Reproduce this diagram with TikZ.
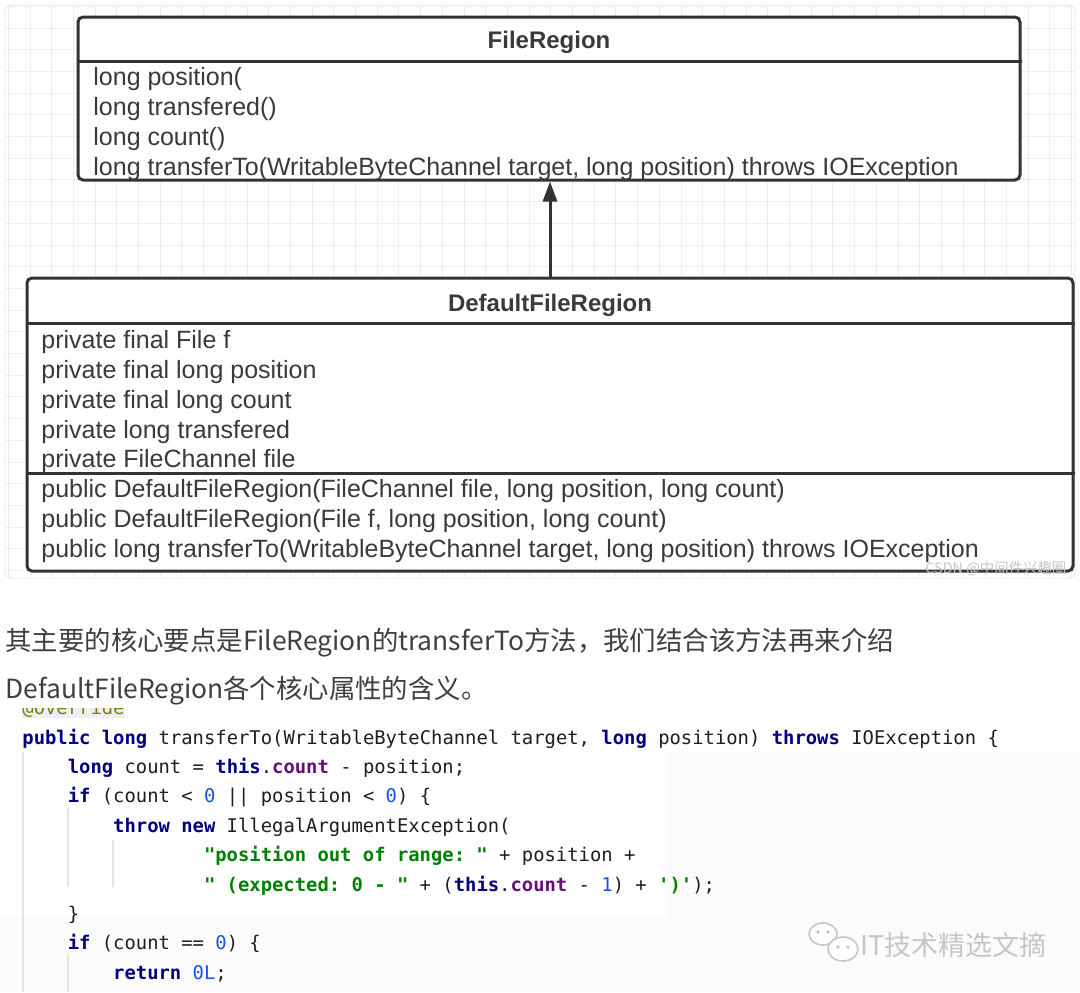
\documentclass[tikz,border=0pt]{standalone}
\usepackage{fontspec}
\setmainfont{Liberation Sans}
\setmonofont{DejaVu Sans Mono}
\newfontfamily\cjk{Noto Sans CJK SC}
\usetikzlibrary{arrows.meta}

\definecolor{umlline}{HTML}{333333}
\definecolor{umltext}{HTML}{3A3A3A}
\definecolor{gridgray}{HTML}{EDEDED}
\definecolor{gridframe}{HTML}{E6E6E6}
\definecolor{paragray}{HTML}{3F3F3F}
\definecolor{wmgray}{HTML}{C6C6C6}
\definecolor{codeblack}{HTML}{1E1E1E}
\definecolor{kwnavy}{HTML}{000080}
\definecolor{numblue}{HTML}{1750EB}
\definecolor{fldpurple}{HTML}{660E7A}
\definecolor{strgreen}{HTML}{008000}
\definecolor{annolive}{HTML}{808000}
\definecolor{annbg}{HTML}{EDEDFC}
\definecolor{guidegray}{HTML}{E4E4E4}
\definecolor{shotgray}{HTML}{FBFBFB}

\newcommand{\ckw}[1]{\textbf{\textcolor{kwnavy}{#1}}}
\newcommand{\cnum}[1]{\textcolor{numblue}{#1}}
\newcommand{\cfld}[1]{\textbf{\textcolor{fldpurple}{#1}}}
\newcommand{\cstr}[1]{\textbf{\textcolor{strgreen}{#1}}}

\tikzset{
  umlbox/.style={draw=umlline, line width=1.5pt, rounded corners=2.5pt, fill=white, inner sep=0pt},
  umldiv/.style={draw=umlline, line width=1.5pt},
  umltitle/.style={anchor=base, inner sep=0pt, text=umltext, font=\fontsize{12}{14}\selectfont\bfseries},
  umlitem/.style={anchor=base west, inner sep=0pt, text=umltext, font=\fontsize{12.5}{15}\selectfont},
  gridline/.style={draw=gridgray, line width=0.5pt},
  cntext/.style={anchor=base west, inner sep=0pt, text=paragray, font=\cjk\fontsize{13.2}{16}\selectfont},
  codeline/.style={anchor=base west, inner sep=0pt, text=codeblack, font=\ttfamily\fontsize{9.43}{11}\selectfont},
  guide/.style={draw=guidegray, line width=0.6pt},
  wmicon/.style={draw=wmgray, line width=0.8pt, fill=white},
}

\begin{document}
\begin{tikzpicture}[x=0.5pt, y=-0.5pt]
  \useasboundingbox (0,0) rectangle (1080,992);
  \fill[white] (0,0) rectangle (1080,992);

  % grid paper
  \draw[draw=gridframe, fill=white, rounded corners=3pt] (5,5) rectangle (1075,578);
  \foreach \gx in {8.3,30,...,1075}
    \draw[gridline] (\gx,6) -- (\gx,577);
  \foreach \gy in {6.3,28,...,578}
    \draw[gridline] (6,\gy) -- (1074,\gy);

  % FileRegion
  \node[umlbox, minimum width=471pt, minimum height=81.5pt] (fr) at (549,98.5) {};
  \draw[umldiv] (fr.west |- 0,61) -- (fr.east |- 0,61);
  \node[umltitle] (frtitle) at (549,48) {FileRegion};
  \node[umlitem] (frpos) at (93,85) {long position(};
  \node[umlitem] (frtrans) at (93,115) {long transfered()};
  \node[umlitem] (frcount) at (93,145) {long count()};
  \node[umlitem] (frto) at (93,175) {long transferTo(WritableByteChannel target, long position) throws IOException};

  % DefaultFileRegion
  \node[umlbox, minimum width=523pt, minimum height=146.5pt] (dfr) at (550,424.5) {};
  \draw[umldiv] (dfr.west |- 0,323) -- (dfr.east |- 0,323);
  \draw[umldiv] (dfr.west |- 0,473) -- (dfr.east |- 0,473);
  \node[umltitle] (dfrtitle) at (550,311) {DefaultFileRegion};
  \node[umlitem] (dff) at (41,348) {private final File f};
  \node[umlitem] (dfpos) at (41,378) {private final long position};
  \node[umlitem] (dfcount) at (41,408) {private final long count};
  \node[umlitem] (dftrans) at (41,438) {private long transfered};
  \node[umlitem] (dffile) at (41,467) {private FileChannel file};
  \node[umlitem] (dfctor1) at (41,497) {public DefaultFileRegion(FileChannel file, long position, long count)};
  \node[umlitem] (dfctor2) at (41,527) {public DefaultFileRegion(File f, long position, long count)};
  \node[umlitem] (dfto) at (41,557) {public long transferTo(WritableByteChannel target, long position) throws IOException};
  \node[anchor=base west, inner sep=0pt, text=wmgray, font=\cjk\fontsize{7.2}{9}\selectfont] (csdn) at (925,573) {CSDN @中间件兴趣圈};

  % inheritance
  \draw[umlline, line width=1.5pt, -{Triangle[length=10pt, width=7pt]}] (dfr.north) -- (dfr.north |- fr.south);

  % text
  \node[cntext] (para1) at (5,650) {其主要的核心要点是FileRegion的transferTo方法，我们结合该方法再来介绍};
  \node[cntext] (para2) at (5,698) {DefaultFileRegion各个核心属性的含义。};

  % code shot
  \fill[shotgray] (667,752) rectangle (1080,992);
  \fill[shotgray] (0,917) rectangle (667,992);
  \begin{scope}
    \clip (0,708) rectangle (400,760);
    \fill[annbg] (22,700) rectangle (125,718);
    \node[codeline, text=annolive] (ann) at (22,714.6) {@Override};
  \end{scope}
  \draw[guide] (23,752) -- (23,992);
  \draw[guide] (68,808) -- (68,887);
  \draw[guide] (68,953) -- (68,992);
  \draw[guide] (113,840) -- (113,887);
  \node[codeline] (c1) at (22,744) {\ckw{public} \ckw{long} transferTo(WritableByteChannel target, \ckw{long} position) \ckw{throws} IOException \{};
  \node[codeline] (c2) at (67.4,773.4) {\ckw{long} count = \ckw{this}.\cfld{count} - position;};
  \node[codeline] (c3) at (67.4,802.8) {\ckw{if} (count < \cnum{0} || position < \cnum{0}) \{};
  \node[codeline] (c4) at (112.8,832.2) {\ckw{throw} \ckw{new} IllegalArgumentException(};
  \node[codeline] (c5) at (203.6,861.6) {\cstr{"position out of range: "} + position +};
  \node[codeline] (c6) at (203.6,891) {\cstr{" (expected: 0 - "} + (\ckw{this}.\cfld{count} - \cnum{1}) + \cstr{')'});};
  \node[codeline] (c7) at (67.4,920.4) {\}};
  \node[codeline] (c8) at (67.4,949.8) {\ckw{if} (count == \cnum{0}) \{};
  \node[codeline] (c9) at (112.8,979.2) {\ckw{return} \cnum{0L};};

  % watermark
  \draw[wmicon] (823,934) ellipse [x radius=7pt, y radius=5.5pt];
  \draw[wmicon] (843,949) ellipse [x radius=7.5pt, y radius=6pt];
  \fill[wmgray] (818,932) circle [radius=0.9pt] (828,932) circle [radius=0.9pt];
  \fill[wmgray] (838,947) circle [radius=0.9pt] (848,947) circle [radius=0.9pt];
  \node[anchor=base west, inner sep=0pt, text=wmgray, font=\cjk\fontsize{13.5}{16}\selectfont] (wxname) at (860,955) {IT技术精选文摘};
\end{tikzpicture}
\end{document}
